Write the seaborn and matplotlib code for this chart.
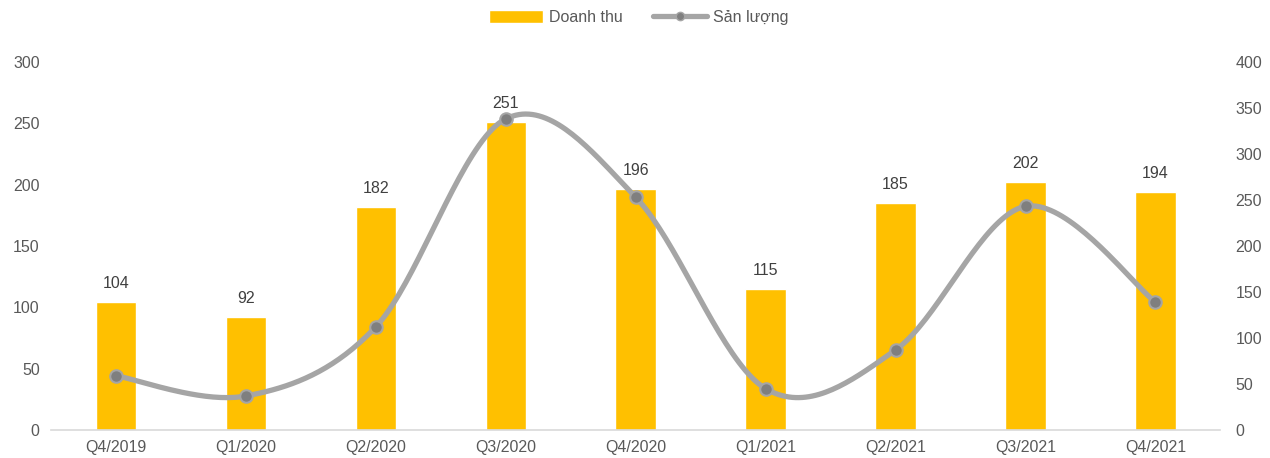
import numpy as np
import pandas as pd
import seaborn as sns
import matplotlib.pyplot as plt
from matplotlib.patches import Patch
from matplotlib.lines import Line2D

quarters = ['Q4/2019', 'Q1/2020', 'Q2/2020', 'Q3/2020', 'Q4/2020',
            'Q1/2021', 'Q2/2021', 'Q3/2021', 'Q4/2021']
doanh_thu = [104, 92, 182, 251, 196, 115, 185, 202, 194]
san_luong = [59, 37, 112, 338, 253, 45, 87, 243, 139]

BAR_COLOR = '#FFC000'
LINE_COLOR = '#A5A5A5'
DOT_COLOR = '#7F7F7F'
TEXT_COLOR = '#595959'


def smooth_curve(xs, ys, n=40):
    # bezier smoothing similar to excel "smoothed line" (catmull-rom style)
    P = np.column_stack([xs, ys]).astype(float)
    out = []
    for i in range(len(P) - 1):
        p0 = P[i - 1] if i > 0 else P[i]
        p1, p2 = P[i], P[i + 1]
        p3 = P[i + 2] if i + 2 < len(P) else P[i + 1]
        c1 = p1 + (p2 - p0) / 6
        c2 = p2 - (p3 - p1) / 6
        t = np.linspace(0, 1, n)[:, None]
        seg = ((1 - t) ** 3) * p1 + 3 * ((1 - t) ** 2) * t * c1 + 3 * (1 - t) * t ** 2 * c2 + t ** 3 * p2
        out.append(seg if i == 0 else seg[1:])
    out = np.vstack(out)
    return out[:, 0], out[:, 1]


df = pd.DataFrame({'quy': quarters, 'doanh_thu': doanh_thu, 'san_luong': san_luong})

sns.set_style('white')
plt.rcParams['font.family'] = ['Liberation Sans', 'DejaVu Sans']
FS = 11.5

fig = plt.figure(figsize=(12.7, 4.58), dpi=100)
ax = fig.add_axes([0.040, 0.061, 0.921, 0.804])

sns.barplot(data=df, x='quy', y='doanh_thu', color=BAR_COLOR, saturation=1,
            width=0.31, ax=ax)
ax.set_xlim(-0.5, len(quarters) - 0.5)
ax.set_ylim(0, 300)
ax.set_yticks(range(0, 301, 50))
ax.set_xlabel('')
ax.set_ylabel('')
for s in ['top', 'right', 'left']:
    ax.spines[s].set_visible(False)
ax.spines['bottom'].set_color('#D9D9D9')
ax.spines['bottom'].set_linewidth(1.2)
ax.tick_params(axis='both', length=0, labelsize=FS, colors=TEXT_COLOR)
ax.tick_params(axis='y', pad=8)
ax.tick_params(axis='x', pad=7)

for i, v in enumerate(doanh_thu):
    ax.text(i, v + 9, str(v), ha='center', va='bottom', fontsize=FS, color='#404040')

ax2 = ax.twinx()
ax2.set_ylim(0, 400)
ax2.set_yticks(range(0, 401, 50))
for s in ['top', 'right', 'left', 'bottom']:
    ax2.spines[s].set_visible(False)
ax2.tick_params(axis='y', length=0, labelsize=FS, colors=TEXT_COLOR, pad=11)

sx, sy = smooth_curve(np.arange(len(quarters)), san_luong)
ax2.plot(sx, sy, color=LINE_COLOR, lw=3.8, solid_capstyle='round', zorder=3)
ax2.plot(np.arange(len(quarters)), san_luong, 'o', ms=9, color=DOT_COLOR,
         markeredgecolor=LINE_COLOR, markeredgewidth=1.5, zorder=4)

handles = [Patch(facecolor=BAR_COLOR, label='Doanh thu'),
           Line2D([0], [0], color=LINE_COLOR, lw=3.8, marker='o', ms=6,
                  markerfacecolor=DOT_COLOR, markeredgecolor=LINE_COLOR,
                  label='Sản lượng')]
fig.legend(handles=handles, loc='center', bbox_to_anchor=(0.503, 0.962), ncol=2,
           frameon=False, fontsize=FS, labelcolor=TEXT_COLOR,
           handlelength=3.4, handleheight=0.9, columnspacing=1.9, handletextpad=0.35)

fig.savefig('out.png', dpi=100, facecolor='white')
